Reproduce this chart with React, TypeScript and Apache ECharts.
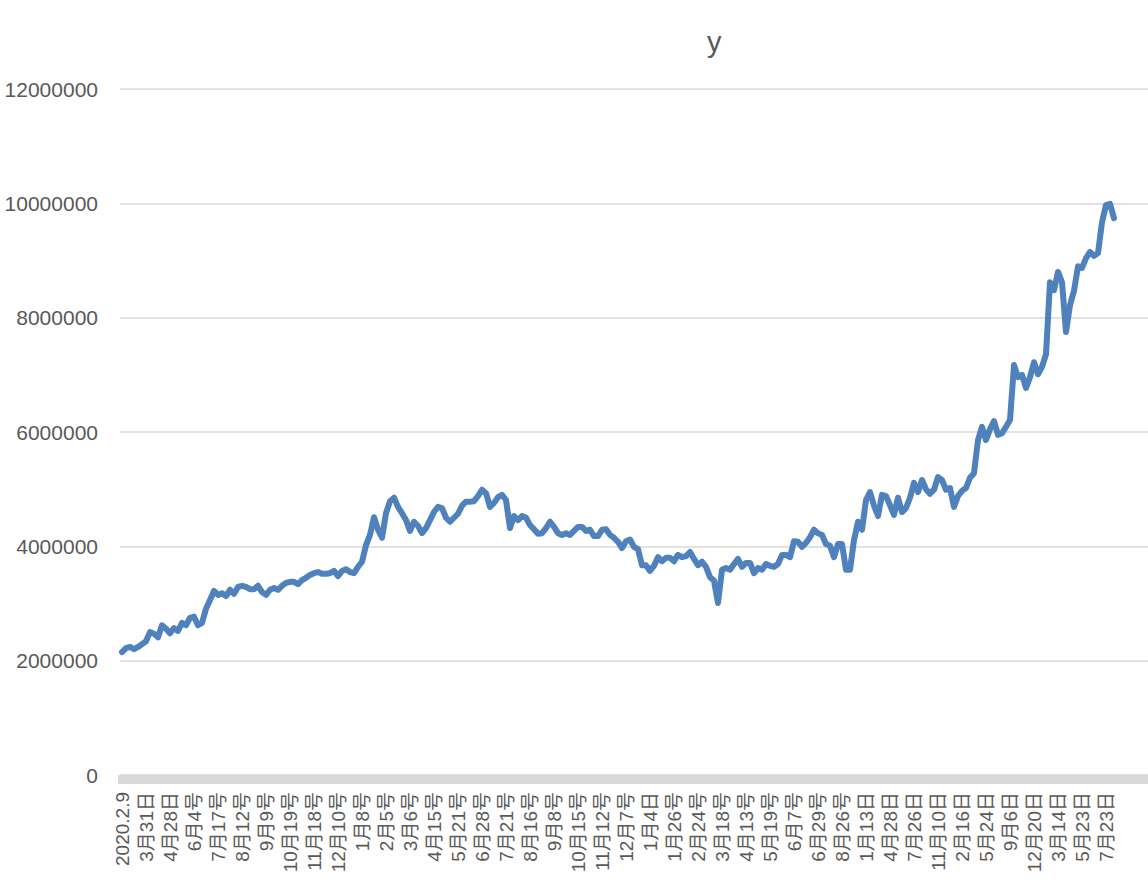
import React, { useEffect, useRef } from "react";
import * as echarts from "echarts";

const TITLE = "y";

const TICK_LABELS = [
  "2020.2.9", "3月31日", "4月28日", "6月4号", "7月17号", "8月12号", "9月9号", "10月19号",
  "11月18号", "12月10号", "1月8号", "2月5号", "3月6号", "4月15号", "5月21号", "6月28号",
  "7月21号", "8月16号", "9月8号", "10月15号", "11月12号", "12月7号", "1月4日", "1月26号",
  "2月24号", "3月18号", "4月13号", "5月19号", "6月7号", "6月29号", "8月26号", "1月13日",
  "4月28日", "7月26日", "11月10日", "2月16日", "5月24日", "9月6日", "12月20日", "3月14日",
  "5月23日", "7月23日",
];

// one tick label every LABEL_STEP categories; TOTAL_CATEGORIES spans the whole axis
const LABEL_STEP = 6;
const TOTAL_CATEGORIES = 257;

const Y_VALUES = [
  2150000, 2220000, 2240000, 2200000, 2240000, 2290000, 2340000, 2500000, 2470000, 2410000,
  2620000, 2560000, 2480000, 2570000, 2520000, 2660000, 2620000, 2750000, 2770000, 2620000,
  2660000, 2910000, 3060000, 3220000, 3150000, 3180000, 3130000, 3240000, 3170000, 3290000,
  3310000, 3290000, 3250000, 3250000, 3310000, 3200000, 3150000, 3240000, 3270000, 3240000,
  3310000, 3360000, 3380000, 3380000, 3340000, 3410000, 3450000, 3500000, 3530000, 3550000,
  3520000, 3520000, 3530000, 3570000, 3480000, 3570000, 3600000, 3550000, 3530000, 3640000,
  3730000, 4020000, 4200000, 4510000, 4290000, 4150000, 4580000, 4790000, 4850000, 4690000,
  4580000, 4460000, 4270000, 4430000, 4360000, 4230000, 4320000, 4460000, 4600000, 4690000,
  4670000, 4500000, 4430000, 4500000, 4570000, 4710000, 4780000, 4780000, 4790000, 4880000,
  4990000, 4930000, 4690000, 4760000, 4860000, 4900000, 4810000, 4320000, 4530000, 4460000,
  4530000, 4500000, 4370000, 4300000, 4220000, 4230000, 4320000, 4430000, 4340000, 4230000,
  4200000, 4230000, 4200000, 4270000, 4340000, 4340000, 4270000, 4290000, 4180000, 4180000,
  4290000, 4300000, 4200000, 4150000, 4080000, 3970000, 4090000, 4120000, 3990000, 3950000,
  3670000, 3670000, 3570000, 3660000, 3810000, 3740000, 3800000, 3800000, 3740000, 3850000,
  3810000, 3830000, 3900000, 3780000, 3670000, 3730000, 3640000, 3460000, 3400000, 3010000,
  3590000, 3620000, 3590000, 3690000, 3780000, 3640000, 3710000, 3710000, 3530000, 3620000,
  3590000, 3690000, 3660000, 3640000, 3690000, 3850000, 3850000, 3810000, 4090000, 4080000,
  3990000, 4060000, 4160000, 4290000, 4230000, 4200000, 4040000, 4010000, 3810000, 4040000,
  4040000, 3590000, 3590000, 4110000, 4430000, 4290000, 4810000, 4950000, 4710000, 4530000,
  4900000, 4880000, 4720000, 4550000, 4850000, 4600000, 4670000, 4850000, 5110000, 4950000,
  5160000, 5000000, 4920000, 4990000, 5210000, 5160000, 4990000, 5020000, 4690000, 4880000,
  4970000, 5020000, 5200000, 5280000, 5860000, 6090000, 5860000, 6050000, 6190000, 5950000,
  5980000, 6090000, 6210000, 7170000, 6960000, 7000000, 6770000, 6960000, 7220000, 7010000,
  7140000, 7360000, 8620000, 8480000, 8800000, 8620000, 7750000, 8220000, 8470000, 8900000,
  8870000, 9040000, 9150000, 9080000, 9130000, 9670000, 9970000, 9990000, 9740000,
];

const Y_MIN = 0;
const Y_MAX = 12000000;
const Y_INTERVAL = 2000000;

export default function App() {
  const ref = useRef<HTMLDivElement>(null);

  useEffect(() => {
    if (!ref.current) return;
    const chart = echarts.init(ref.current, null, { renderer: "svg" });

    const categories: string[] = [];
    for (let i = 0; i < TOTAL_CATEGORIES; i++) {
      const k = i / LABEL_STEP;
      categories.push(i % LABEL_STEP === 0 && k < TICK_LABELS.length ? TICK_LABELS[k] : "");
    }

    const textColor = "#595959";
    const font = "'Liberation Sans', 'Noto Sans CJK SC', sans-serif";

    chart.setOption({
      animation: false,
      backgroundColor: "#ffffff",
      title: {
        text: TITLE,
        left: 702,
        top: 22,
        textStyle: { color: textColor, fontSize: 29, fontWeight: "normal", fontFamily: font },
      },
      grid: { left: 120, right: 0, top: 89, bottom: 119, containLabel: false },
      xAxis: {
        type: "category",
        data: categories,
        boundaryGap: true,
        axisLine: { show: false },
        axisTick: {
          show: true,
          interval: 0,
          length: 9,
          lineStyle: { color: "#d9d9d9", width: 4 },
        },
        axisLabel: {
          interval: 0,
          rotate: 90,
          margin: 17,
          color: textColor,
          fontSize: 19,
          fontFamily: font,
        },
        splitLine: { show: false },
      },
      yAxis: {
        type: "value",
        min: Y_MIN,
        max: Y_MAX,
        interval: Y_INTERVAL,
        axisLine: { show: false },
        axisTick: { show: false },
        axisLabel: {
          margin: 22,
          color: textColor,
          fontSize: 21,
          fontFamily: font,
          formatter: (v: number) => String(v),
        },
        splitLine: { lineStyle: { color: "#d9d9d9", width: 1.5 } },
      },
      series: [
        {
          type: "line",
          data: Y_VALUES,
          showSymbol: false,
          symbol: "none",
          lineStyle: { color: "#4f81bd", width: 6, cap: "round", join: "round" },
        },
      ],
    });

    return () => chart.dispose();
  }, []);

  return (
    <div
      ref={ref}
      style={{ position: "absolute", left: 0, top: 0, width: 1148, height: 894 }}
    />
  );
}
